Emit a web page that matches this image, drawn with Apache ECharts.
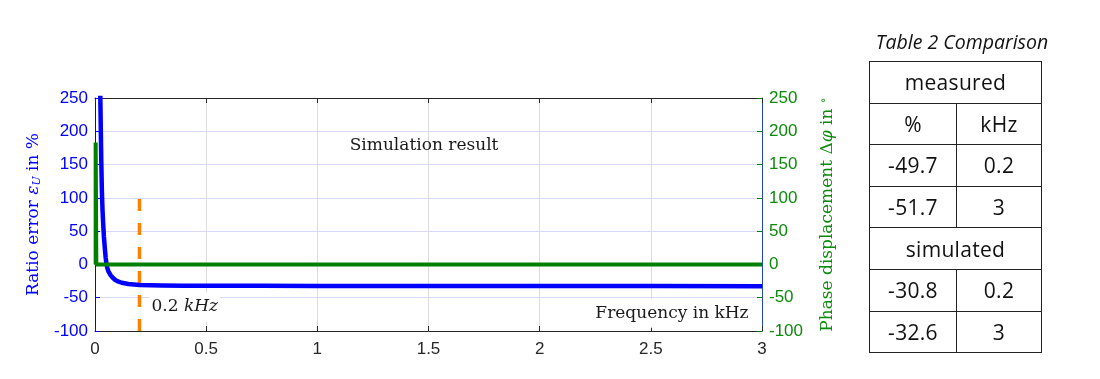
<!DOCTYPE html>
<html>
<head>
<meta charset="utf-8">
<script src="https://cdn.jsdelivr.net/npm/echarts@6/dist/echarts.min.js"></script>
<style>
  html, body { margin: 0; padding: 0; background: #fff; width: 1100px; height: 379px; overflow: hidden; }
  #chart { position: absolute; left: 0; top: 0; width: 1100px; height: 379px; }
  #tbl-title { position: absolute; left: 862px; top: 28px; width: 200px; text-align: center;
    font-family: "Open Sans", sans-serif; font-style: italic; font-size: 19.5px; color: #111; }
  #tbl { position: absolute; left: 869px; top: 61px; border-collapse: collapse;
    font-family: "Open Sans", sans-serif; font-size: 21px; color: #111; }
  #tbl td { border: 1px solid #222; text-align: center; height: 41.6px; padding: 0; box-sizing: border-box; letter-spacing: 0.3px; }
</style>
</head>
<body>
<div id="chart"></div>
<div id="tbl-title"></div>
<table id="tbl"></table>
<script>
// ---- data ----
const freqRatio = [0.012, 0.02, 0.024, 0.028, 0.031, 0.034, 0.037, 0.040, 0.044, 0.048, 0.052, 0.056, 0.06, 0.07, 0.08, 0.09, 0.10, 0.12, 0.15, 0.2, 0.25, 0.3, 0.4, 0.5, 0.75, 1.0, 1.5, 2.0, 2.5, 3.0];
const ratioError = [600, 330, 250, 160, 110, 80, 60, 42, 25, 10, 0, -6, -10, -16, -20, -23, -25, -27.5, -29.3, -30.8, -31.3, -31.6, -31.9, -32.0, -32.2, -32.3, -32.4, -32.5, -32.5, -32.6];
const freqPhase = [0.003, 0.003, 0.006, 3.0];
const phaseDisp = [0, 183, 0, 0];
const markerFreq = [0.2, 0.2];
const markerVal = [-100, 100];
const xTickLabels = ['0', '0.5', '1', '1.5', '2', '2.5', '3'];
const yTickLabels = ['-100', '-50', '0', '50', '100', '150', '200', '250'];
const tableTitle = 'Table 2 Comparison';
const tableMeasuredHeader = 'measured';
const tableSimulatedHeader = 'simulated';
const tableColHeaders = ['%', 'kHz'];
const measuredRatio = ['-49.7', '-51.7'];
const measuredFreq = ['0.2', '3'];
const simulatedRatio = ['-30.8', '-32.6'];
const simulatedFreq = ['0.2', '3'];

// ---- table ----
document.getElementById('tbl-title').textContent = tableTitle;
const tbl = document.getElementById('tbl');
function addRow(cells, span) {
  const tr = document.createElement('tr');
  cells.forEach(c => {
    const td = document.createElement('td');
    td.textContent = c;
    if (span) { td.colSpan = 2; td.style.width = '172px'; }
    tr.appendChild(td);
  });
  tbl.appendChild(tr);
}
addRow([tableMeasuredHeader], true);
addRow(tableColHeaders);
measuredRatio.forEach((v, i) => addRow([v, measuredFreq[i]]));
addRow([tableSimulatedHeader], true);
simulatedRatio.forEach((v, i) => addRow([v, simulatedFreq[i]]));
Array.from(tbl.rows).forEach(r => { if (r.cells.length === 2) { r.cells[0].style.width = '87px'; r.cells[1].style.width = '85px'; } });

// ---- chart ----
const chart = echarts.init(document.getElementById('chart'), null, { renderer: 'canvas' });
const blue = '#0000ff';
const green = '#008000';
const greenText = '#0c8a0c';
const tickFont = 'Liberation Sans';
const serif = 'DejaVu Serif';

const option = {
  animation: false,
  backgroundColor: '#fff',
  grid: { left: 95, right: 338, top: 98, bottom: 48, containLabel: false },
  xAxis: [{
    type: 'value', min: 0, max: 3, interval: 0.5, position: 'bottom',
    axisLine: { show: true, onZero: false, lineStyle: { color: '#262626', width: 1 } },
    axisTick: { show: true, inside: true, length: 5, lineStyle: { color: '#262626' } },
    axisLabel: { color: '#262626', fontFamily: tickFont, fontSize: 17, margin: 10,
      formatter: (v) => xTickLabels[Math.round(v / 0.5)] },
    splitLine: { show: true, lineStyle: { color: '#dcdcdc', width: 1 } }
  }, {
    type: 'value', min: 0, max: 3, interval: 0.5, position: 'top',
    axisLine: { show: true, onZero: false, lineStyle: { color: '#262626', width: 1 } },
    axisTick: { show: true, inside: true, length: 5, lineStyle: { color: '#262626' } },
    axisLabel: { show: false }, splitLine: { show: false }
  }],
  yAxis: [{
    type: 'value', min: -100, max: 250, interval: 50, position: 'left',
    name: 'Ratio error {i|ε}{sub|U} in %', nameLocation: 'middle', nameGap: 48, nameRotate: 90,
    nameTextStyle: { color: blue, fontFamily: serif, fontSize: 17,
      rich: { i: { fontFamily: serif, fontStyle: 'italic', fontSize: 17, color: blue },
              sub: { fontFamily: serif, fontStyle: 'italic', fontSize: 11, color: blue, verticalAlign: 'bottom', padding: [8, 0, 0, 0] } } },
    axisLine: { show: true, onZero: false, lineStyle: { color: blue, width: 1 } },
    axisTick: { show: true, inside: true, length: 5, lineStyle: { color: blue } },
    axisLabel: { color: blue, fontFamily: tickFont, fontSize: 17, margin: 7,
      formatter: (v) => yTickLabels[Math.round((v + 100) / 50)] },
    splitLine: { show: true, lineStyle: { color: '#d8d8fa', width: 1 } }
  }, {
    type: 'value', min: -100, max: 250, interval: 50, position: 'right',
    name: 'Phase displacement {u|Δ}{i|φ} in {sup|∘}', nameLocation: 'middle', nameGap: 56, nameRotate: 90,
    nameTextStyle: { color: greenText, fontFamily: serif, fontSize: 17,
      rich: { u: { fontFamily: serif, fontSize: 17, color: greenText },
              i: { fontFamily: serif, fontStyle: 'italic', fontSize: 17, color: greenText },
              sup: { fontFamily: serif, fontSize: 12, color: greenText, verticalAlign: 'top', padding: [0, 0, 8, 0] } } },
    axisLine: { show: true, onZero: false, lineStyle: { color: '#1f48d0', width: 1 } },
    axisTick: { show: true, inside: true, length: 5, lineStyle: { color: green } },
    axisLabel: { color: greenText, fontFamily: tickFont, fontSize: 17, margin: 7,
      formatter: (v) => yTickLabels[Math.round((v + 100) / 50)] },
    splitLine: { show: false }
  }],
  series: [{
    type: 'line', xAxisIndex: 0, yAxisIndex: 0, showSymbol: false, smooth: false, clip: true,
    data: freqRatio.map((f, i) => [f, ratioError[i]]),
    lineStyle: { color: blue, width: 4.5, join: 'round' }, z: 3
  }, {
    type: 'line', xAxisIndex: 0, yAxisIndex: 1, showSymbol: false, clip: true,
    data: freqPhase.map((f, i) => [f, phaseDisp[i]]),
    lineStyle: { color: green, width: 4 }, z: 4
  }, {
    type: 'line', xAxisIndex: 0, yAxisIndex: 0, showSymbol: false, clip: true,
    data: markerFreq.map((f, i) => [f, markerVal[i]]),
    lineStyle: { color: '#ff8000', width: 3.5, type: [12, 12] }, z: 2
  }]
};
chart.setOption(option);

function px(x, y) { return chart.convertToPixel({ xAxisIndex: 0, yAxisIndex: 0 }, [x, y]); }
const pSim = px(1.48, 178);
const pFreq = px(2.595, -73.5);
const pMark = px(0.245, -64);
chart.setOption({
  graphic: [{
    type: 'text', x: pSim[0], y: pSim[1], z: 10,
    style: { text: 'Simulation result', font: '17px "DejaVu Serif"', fill: '#1a1a1a', align: 'center', verticalAlign: 'middle' }
  }, {
    type: 'text', x: pFreq[0], y: pFreq[1], z: 10,
    style: { text: 'Frequency in kHz', font: '17px "DejaVu Serif"', fill: '#1a1a1a', align: 'center', verticalAlign: 'middle',
      backgroundColor: '#fff', padding: [6, 6, 6, 6] }
  }, {
    type: 'text', x: pMark[0], y: pMark[1], z: 10,
    style: { text: '0.2 {i|kHz}', font: '17px "DejaVu Serif"', fill: '#1a1a1a', align: 'left', verticalAlign: 'middle',
      backgroundColor: '#fff', padding: [6, 2, 6, 2],
      rich: { i: { fontFamily: 'DejaVu Serif', fontStyle: 'italic', fontSize: 17, fill: '#1a1a1a', color: '#1a1a1a' } } }
  }]
});
</script>
</body>
</html>
